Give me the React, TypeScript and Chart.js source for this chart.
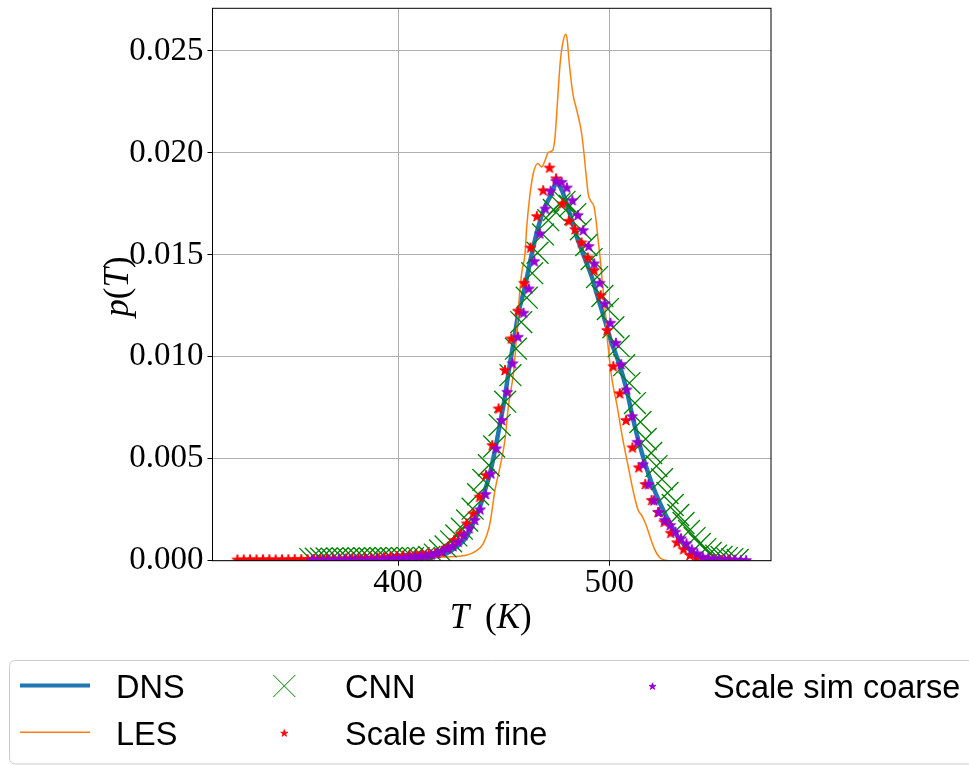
import React, { useEffect, useRef } from 'react';
import { Chart, registerables } from 'chart.js';

Chart.register(...registerables);

// ---------- data ----------
const X_MIN = 312.2;
const X_MAX = 576.5;
const Y_MIN = 0;
const Y_MAX = 0.02709;
const xTickValues = [400, 500];
const yTickValues = [0, 0.005, 0.01, 0.015, 0.02, 0.025];

const dnsT = [360, 380, 400, 410.4, 416.7, 423.0, 427.8, 432.5, 435.6, 438.8, 441.2, 443.5, 445.9, 448.3, 450.6, 452.2, 453.8, 455.4, 456.9, 459.3, 461.7, 464.0, 466.4, 468.8, 471.9, 475.1, 477.5, 479.8, 482.2, 484.6, 486.9, 489.3, 491.7, 494.0, 496.4, 498.8, 501.1, 502.7, 505.1, 508.2, 510.6, 513.7, 516.9, 520.1, 524.0, 528.7, 533.5, 538.2, 542.9, 549.2, 555];
const dnsP = [0.00003, 0.00006, 0.0001, 0.00013, 0.0002, 0.00036, 0.00069, 0.00118, 0.00183, 0.00265, 0.00347, 0.00428, 0.00543, 0.00674, 0.00804, 0.00919, 0.01018, 0.01115, 0.01213, 0.01311, 0.01425, 0.01539, 0.01637, 0.01719, 0.01784, 0.0185, 0.01817, 0.01752, 0.0167, 0.01588, 0.01523, 0.01458, 0.01392, 0.01311, 0.01229, 0.01147, 0.01066, 0.01023, 0.00951, 0.00837, 0.00723, 0.00592, 0.00477, 0.00379, 0.00281, 0.00183, 0.00101, 0.00052, 0.0002, 0.00003, 0.00001];

const lesT = [380, 400, 418, 426.2, 432.5, 436.4, 440.4, 443.5, 445.9, 448.3, 450.6, 452.2, 454.6, 455.6, 456.3, 458.5, 460.1, 460.9, 462.5, 464.0, 466.1, 468.0, 469.6, 471.1, 473.2, 474.3, 475.4, 476.7, 477.9, 479.4, 480.1, 480.9, 481.9, 483.0, 484.2, 485.7, 486.9, 488.0, 489.0, 490.1, 491.3, 492.8, 493.7, 494.7, 495.6, 496.9, 498.0, 498.9, 500.1, 501.3, 503.6, 506.0, 508.8, 511.7, 513.6, 515.5, 517.4, 519.3, 521.6, 524.0, 527.8];
const lesP = [0.00005, 0.0001, 0.00017, 0.0002, 0.00028, 0.00044, 0.00085, 0.00183, 0.00347, 0.00461, 0.00592, 0.00755, 0.00919, 0.01033, 0.01147, 0.01409, 0.01507, 0.01637, 0.01801, 0.01899, 0.01948, 0.01931, 0.01964, 0.02002, 0.02013, 0.02078, 0.02242, 0.02438, 0.02536, 0.02582, 0.02552, 0.02454, 0.02356, 0.02275, 0.02225, 0.0216, 0.02095, 0.01997, 0.01891, 0.01793, 0.01763, 0.01734, 0.0167, 0.01572, 0.01489, 0.01342, 0.01229, 0.01106, 0.00984, 0.00886, 0.00763, 0.00616, 0.00469, 0.00322, 0.00249, 0.00219, 0.00175, 0.00116, 0.00052, 0.00013, 0];

const cnnT = [358.5, 361.1, 363.6, 366.2, 368.7, 371.3, 373.9, 376.4, 379.0, 381.5, 384.1, 386.7, 389.2, 391.8, 394.3, 396.9, 399.5, 402.0, 404.6, 407.1, 409.7, 412.3, 414.8, 417.4, 419.9, 422.5, 425.1, 427.6, 430.2, 432.7, 435.3, 437.9, 440.4, 443.0, 445.5, 448.1, 450.7, 453.2, 455.8, 458.3, 460.9, 463.5, 466.0, 468.6, 471.1, 473.7, 476.3, 478.8, 481.4, 483.9, 486.5, 489.1, 491.6, 494.2, 496.7, 499.3, 501.9, 504.4, 507.0, 509.5, 512.1, 514.7, 517.2, 519.8, 522.3, 524.9, 527.5, 530.0, 532.6, 535.1, 537.7, 540.3, 542.8, 545.4, 547.9, 550.5, 553.1, 555.6, 558.2, 560.7];
const cnnP = [0.00008, 0.0001, 0.0001, 0.00011, 0.0001, 0.00011, 0.00011, 0.0001, 0.00011, 0.00011, 0.00012, 0.00011, 0.00012, 0.00012, 0.00012, 0.00012, 0.00013, 0.00012, 0.00013, 0.00013, 0.00013, 0.00014, 0.00018, 0.0003, 0.0005, 0.0007, 0.00095, 0.00124, 0.00157, 0.00197, 0.00255, 0.00326, 0.00396, 0.00468, 0.0056, 0.00665, 0.0078, 0.0091, 0.0104, 0.0117, 0.0129, 0.0141, 0.0151, 0.016, 0.0167, 0.0172, 0.0175, 0.0176, 0.0174, 0.017, 0.01625, 0.01548, 0.01479, 0.01391, 0.01298, 0.01234, 0.01145, 0.01052, 0.00959, 0.00871, 0.00773, 0.0068, 0.00597, 0.00528, 0.00464, 0.004, 0.00332, 0.00273, 0.00224, 0.00185, 0.00146, 0.00111, 0.00082, 0.00057, 0.00038, 0.00025, 0.00018, 0.00013, 0.00008, 0.00004];

const fineT = [324.0, 327.0, 330.0, 333.0, 336.1, 339.1, 342.1, 345.1, 348.1, 351.1, 354.2, 357.2, 360.2, 363.2, 366.2, 369.2, 372.2, 375.3, 378.3, 381.3, 384.3, 387.3, 390.3, 393.3, 396.4, 399.4, 402.4, 405.4, 408.4, 411.4, 414.5, 417.5, 420.5, 423.5, 426.5, 429.5, 432.5, 435.6, 438.6, 441.6, 444.6, 447.6, 450.6, 453.6, 456.7, 459.7, 462.7, 465.7, 468.7, 471.7, 474.8, 477.8, 480.8, 483.8, 486.8, 489.8, 492.8, 495.9, 498.9, 501.9, 504.9, 507.9, 510.9, 513.9, 517.0, 520.0, 523.0, 526.0, 529.0, 532.0, 535.1, 538.1, 541.1, 544.1, 547.1, 550.1, 553.1, 556.2, 559.2];
const fineP = [0.00006, 0.00006, 0.00007, 0.00006, 0.00007, 0.00007, 0.00006, 0.00007, 0.00007, 0.00008, 0.00008, 0.00008, 0.00009, 0.00009, 0.0001, 0.0001, 0.00011, 0.00011, 0.00012, 0.00012, 0.00013, 0.00015, 0.00016, 0.00018, 0.0002, 0.00023, 0.00025, 0.00028, 0.0003, 0.00033, 0.00035, 0.00038, 0.00044, 0.00069, 0.00101, 0.00134, 0.00183, 0.00232, 0.00314, 0.0042, 0.00567, 0.00747, 0.00935, 0.0109, 0.01226, 0.01363, 0.01536, 0.0169, 0.01817, 0.01928, 0.01875, 0.01752, 0.01667, 0.01626, 0.01561, 0.01487, 0.01425, 0.01302, 0.01131, 0.00954, 0.00821, 0.0069, 0.00556, 0.00458, 0.00376, 0.00298, 0.00239, 0.00191, 0.00137, 0.0009, 0.00057, 0.00028, 0.00016, 0.0001, 0.00007, 0.00005, 0.00004, 0.00003, 0.00002];

const coarseT = [359.2, 361.7, 364.3, 366.9, 369.4, 372.0, 374.6, 377.1, 379.7, 382.3, 384.9, 387.4, 390.0, 392.6, 395.1, 397.7, 400.3, 402.8, 405.4, 408.0, 410.6, 413.1, 415.7, 418.3, 420.8, 423.4, 426.0, 428.5, 431.1, 433.7, 436.3, 438.8, 441.4, 444.0, 446.5, 449.1, 451.7, 454.2, 456.8, 459.4, 461.9, 464.5, 467.1, 469.7, 472.2, 474.8, 477.4, 479.9, 482.5, 485.1, 487.6, 490.2, 492.8, 495.4, 497.9, 500.5, 503.1, 505.6, 508.2, 510.8, 513.3, 515.9, 518.5, 521.1, 523.6, 526.2, 528.8, 531.3, 533.9, 536.5, 539.0, 541.6, 544.2, 546.8, 549.3, 551.9, 554.5, 557.0, 559.6, 562.2, 564.7];
const coarseP = [0.00004, 0.00004, 0.00005, 0.00005, 0.00005, 0.00006, 0.00006, 0.00006, 0.00006, 0.00006, 0.00007, 0.00007, 0.00008, 0.00009, 0.0001, 0.00012, 0.00013, 0.00015, 0.00018, 0.0002, 0.00023, 0.00026, 0.0003, 0.00038, 0.00048, 0.0006, 0.00072, 0.00093, 0.00126, 0.00159, 0.002, 0.00252, 0.00327, 0.00428, 0.00551, 0.0069, 0.00828, 0.00968, 0.01098, 0.01216, 0.01335, 0.01469, 0.01605, 0.01727, 0.01814, 0.01863, 0.01858, 0.0183, 0.01768, 0.01695, 0.01621, 0.01543, 0.01458, 0.01363, 0.01262, 0.01167, 0.01069, 0.00964, 0.0084, 0.00709, 0.00583, 0.00473, 0.00375, 0.00296, 0.00239, 0.002, 0.00175, 0.00142, 0.0011, 0.00085, 0.00056, 0.00036, 0.0002, 0.00013, 0.0001, 0.00008, 0.00007, 0.00006, 0.00005, 0.00004, 0.00003];

const seriesNames = ['DNS', 'LES', 'CNN', 'Scale sim fine', 'Scale sim coarse'];

// ---------- styles ----------
const BLUE = '#1f77b4';
const ORANGE = '#ff7f0e';
const GREEN = '#008000';
const RED = '#ff0000';
const VIOLET = '#9400d3';
const SERIF = '"Liberation Serif", "DejaVu Serif", serif';
const SANS = '"Liberation Sans", Arial, sans-serif';

const W = 969;
const H = 765;
const AREA = { left: 212.5, top: 8.3, right: 771, bottom: 560.7 };

function pairs(xs: number[], ys: number[]) {
  return xs.map((x, i) => ({ x, y: ys[i] }));
}

function starPath(ctx: CanvasRenderingContext2D, cx: number, cy: number, R: number) {
  const r = R * 0.381966;
  ctx.beginPath();
  for (let i = 0; i < 10; i++) {
    const ang = -Math.PI / 2 + (i * Math.PI) / 5;
    const rr = i % 2 === 0 ? R : r;
    const px = cx + rr * Math.cos(ang);
    const py = cy + rr * Math.sin(ang);
    if (i === 0) ctx.moveTo(px, py);
    else ctx.lineTo(px, py);
  }
  ctx.closePath();
}

function drawStar(ctx: CanvasRenderingContext2D, cx: number, cy: number, R: number, color: string, lw: number) {
  ctx.save();
  starPath(ctx, cx, cy, R);
  ctx.fillStyle = color;
  ctx.fill();
  if (lw > 0) {
    ctx.strokeStyle = color;
    ctx.lineWidth = lw;
    ctx.lineJoin = 'round';
    ctx.stroke();
  }
  ctx.restore();
}

function makeStarImage(color: string, R: number, lw: number) {
  const size = 16;
  const c = document.createElement('canvas');
  c.width = size;
  c.height = size;
  const g = c.getContext('2d')!;
  drawStar(g, size / 2, size / 2 + R * 0.1, R, color, lw);
  return c;
}

function drawMixed(ctx: CanvasRenderingContext2D, parts: [string, boolean][], cx: number, baseline: number, size: number) {
  const fonts = parts.map(([, it]) => `${it ? 'italic ' : ''}${size}px ${SERIF}`);
  let total = 0;
  const widths = parts.map(([t], i) => {
    ctx.font = fonts[i];
    const w = ctx.measureText(t).width;
    total += w;
    return w;
  });
  let x = cx - total / 2;
  ctx.textAlign = 'left';
  ctx.textBaseline = 'alphabetic';
  parts.forEach(([t], i) => {
    ctx.font = fonts[i];
    ctx.fillText(t, x, baseline);
    x += widths[i];
  });
}

const decorPlugin = {
  id: 'decor',
  afterDraw(chart: any) {
    const ctx: CanvasRenderingContext2D = chart.ctx;
    const a = chart.chartArea;
    ctx.save();
    // frame
    ctx.strokeStyle = '#000';
    ctx.lineWidth = 1;
    ctx.strokeRect(a.left, a.top, a.right - a.left, a.bottom - a.top);

    // axis titles
    ctx.fillStyle = '#000';
    drawMixed(ctx, [['T', true], ['\u2009 (', false], ['K', true], [')', false]], (a.left + a.right) / 2 - 1, 628, 35);
    ctx.save();
    ctx.translate(128, (a.top + a.bottom) / 2 + 2);
    ctx.rotate(-Math.PI / 2);
    drawMixed(ctx, [['p', true], ['(', false], ['T', true], [')', false]], 0, 0, 35);
    ctx.restore();

    // legend box
    const bx = 9.5, by = 660.5, bw = 990, bh = 103.5, rad = 6;
    ctx.beginPath();
    ctx.moveTo(bx + rad, by);
    ctx.lineTo(bx + bw - rad, by);
    ctx.quadraticCurveTo(bx + bw, by, bx + bw, by + rad);
    ctx.lineTo(bx + bw, by + bh - rad);
    ctx.quadraticCurveTo(bx + bw, by + bh, bx + bw - rad, by + bh);
    ctx.lineTo(bx + rad, by + bh);
    ctx.quadraticCurveTo(bx, by + bh, bx, by + bh - rad);
    ctx.lineTo(bx, by + rad);
    ctx.quadraticCurveTo(bx, by, bx + rad, by);
    ctx.closePath();
    ctx.fillStyle = '#ffffff';
    ctx.fill();
    ctx.strokeStyle = '#cccccc';
    ctx.lineWidth = 1;
    ctx.stroke();

    // legend handles
    ctx.lineCap = 'butt';
    ctx.strokeStyle = BLUE;
    ctx.lineWidth = 4;
    ctx.beginPath();
    ctx.moveTo(20, 685.5);
    ctx.lineTo(90, 685.5);
    ctx.stroke();

    ctx.strokeStyle = ORANGE;
    ctx.lineWidth = 1.5;
    ctx.beginPath();
    ctx.moveTo(20, 732.3);
    ctx.lineTo(90, 732.3);
    ctx.stroke();

    ctx.strokeStyle = GREEN;
    ctx.lineWidth = 1;
    ctx.beginPath();
    ctx.moveTo(273.3, 675);
    ctx.lineTo(295.3, 697);
    ctx.moveTo(273.3, 697);
    ctx.lineTo(295.3, 675);
    ctx.stroke();

    drawStar(ctx, 284.3, 733.3, 3.7, RED, 0.8);
    drawStar(ctx, 652.5, 686.5, 3.7, VIOLET, 0.8);

    // legend texts
    ctx.fillStyle = '#000';
    ctx.font = `32.5px ${SANS}`;
    ctx.textAlign = 'left';
    ctx.textBaseline = 'alphabetic';
    ctx.fillText(seriesNames[0], 116, 698);
    ctx.fillText(seriesNames[1], 116, 744.5);
    ctx.fillText(seriesNames[2], 345, 698);
    ctx.fillText(seriesNames[3], 345, 744.5);
    ctx.fillText(seriesNames[4], 713, 698);
    ctx.restore();
  },
};

export default function App() {
  const ref = useRef<HTMLCanvasElement | null>(null);

  useEffect(() => {
    const canvas = ref.current;
    if (!canvas) return;
    const redStar = makeStarImage(RED, 5.6, 1);
    const violetStar = makeStarImage(VIOLET, 5.6, 1);

    const gridCommon = {
      color: '#b0b0b0',
      lineWidth: 1,
      tickLength: 5,
      tickColor: '#000',
      tickWidth: 1,
      drawTicks: true,
    };

    const chart = new Chart(canvas, {
      type: 'line',
      data: {
        datasets: [
          {
            label: seriesNames[0],
            data: pairs(dnsT, dnsP),
            borderColor: BLUE,
            backgroundColor: BLUE,
            borderWidth: 4.5,
            pointRadius: 0,
            cubicInterpolationMode: 'monotone',
            clip: 0,
            order: 4,
          },
          {
            label: seriesNames[1],
            data: pairs(lesT, lesP),
            borderColor: ORANGE,
            backgroundColor: ORANGE,
            borderWidth: 1.5,
            pointRadius: 0,
            cubicInterpolationMode: 'monotone',
            clip: 0,
            order: 3,
          },
          {
            label: seriesNames[2],
            data: pairs(cnnT, cnnP),
            showLine: false,
            pointStyle: 'crossRot',
            pointRadius: 15.5,
            pointBorderColor: GREEN,
            pointBackgroundColor: GREEN,
            pointBorderWidth: 1.3,
            borderColor: GREEN,
            clip: 0,
            order: 2,
          },
          {
            label: seriesNames[3],
            data: pairs(fineT, fineP),
            showLine: false,
            pointStyle: redStar,
            pointRadius: 6,
            borderColor: RED,
            clip: 0,
            order: 1,
          },
          {
            label: seriesNames[4],
            data: pairs(coarseT, coarseP),
            showLine: false,
            pointStyle: violetStar,
            pointRadius: 6,
            borderColor: VIOLET,
            clip: 0,
            order: 0,
          },
        ] as any,
      },
      options: {
        responsive: false,
        animation: false,
        devicePixelRatio: 1,
        events: [],
        layout: {
          autoPadding: false,
          padding: { left: 0, top: AREA.top, right: W - AREA.right, bottom: 0 },
        },
        plugins: {
          legend: { display: false },
          tooltip: { enabled: false },
        },
        scales: {
          x: {
            type: 'linear',
            min: X_MIN,
            max: X_MAX,
            afterBuildTicks: (s: any) => {
              s.ticks = xTickValues.map((v) => ({ value: v }));
            },
            afterFit: (s: any) => {
              s.height = H - AREA.bottom;
              s.paddingLeft = 0;
              s.paddingRight = 0;
            },
            grid: gridCommon,
            border: { display: false },
            ticks: {
              autoSkip: false,
              maxRotation: 0,
              padding: 1,
              color: '#000',
              font: { family: SERIF, size: 33, lineHeight: 1 },
              callback: (v: any) => String(v),
            },
          },
          y: {
            type: 'linear',
            min: Y_MIN,
            max: Y_MAX,
            afterBuildTicks: (s: any) => {
              s.ticks = yTickValues.map((v) => ({ value: v }));
            },
            afterFit: (s: any) => {
              s.width = AREA.left;
              s.paddingTop = 0;
              s.paddingBottom = 0;
            },
            grid: gridCommon,
            border: { display: false },
            ticks: {
              autoSkip: false,
              padding: 4,
              color: '#000',
              font: { family: SERIF, size: 33, lineHeight: 1 },
              callback: (v: any) => Number(v).toFixed(3),
            },
          },
        },
      } as any,
      plugins: [decorPlugin],
    });

    return () => {
      chart.destroy();
    };
  }, []);

  return (
    <canvas
      ref={ref}
      width={W}
      height={H}
      style={{ position: 'fixed', left: 0, top: 0, width: W, height: H, display: 'block' }}
    />
  );
}
